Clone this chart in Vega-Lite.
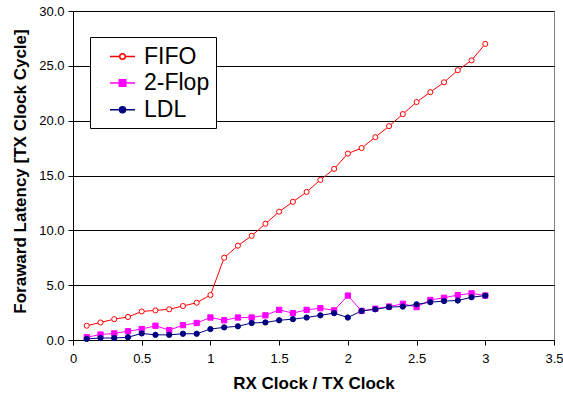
{
  "$schema": "https://vega.github.io/schema/vega-lite/v6.json",
  "width": 481,
  "height": 329,
  "autosize": "none",
  "padding": {"left": 73, "top": 11, "right": 9, "bottom": 61},
  "background": "white",
  "config": {
    "font": "Liberation Sans",
    "view": {"stroke": "#808080", "strokeWidth": 1},
    "axis": {
      "labelFont": "Liberation Sans",
      "titleFont": "Liberation Sans",
      "labelColor": "black",
      "titleColor": "black",
      "domainColor": "black",
      "tickColor": "black",
      "gridColor": "black",
      "labelFontSize": 13,
      "titleFontSize": 17,
      "titleFontWeight": "bold"
    }
  },
  "datasets": {
    "pts": [
      {"x": 0.1, "series": "FIFO", "y": 1.3}, {"x": 0.2, "series": "FIFO", "y": 1.6}, {"x": 0.3, "series": "FIFO", "y": 1.9},
      {"x": 0.4, "series": "FIFO", "y": 2.1}, {"x": 0.5, "series": "FIFO", "y": 2.6}, {"x": 0.6, "series": "FIFO", "y": 2.7},
      {"x": 0.7, "series": "FIFO", "y": 2.8}, {"x": 0.8, "series": "FIFO", "y": 3.1}, {"x": 0.9, "series": "FIFO", "y": 3.4},
      {"x": 1.0, "series": "FIFO", "y": 4.1}, {"x": 1.1, "series": "FIFO", "y": 7.5}, {"x": 1.2, "series": "FIFO", "y": 8.6},
      {"x": 1.3, "series": "FIFO", "y": 9.5}, {"x": 1.4, "series": "FIFO", "y": 10.6}, {"x": 1.5, "series": "FIFO", "y": 11.7},
      {"x": 1.6, "series": "FIFO", "y": 12.6}, {"x": 1.7, "series": "FIFO", "y": 13.5}, {"x": 1.8, "series": "FIFO", "y": 14.6},
      {"x": 1.9, "series": "FIFO", "y": 15.6}, {"x": 2.0, "series": "FIFO", "y": 17.0}, {"x": 2.1, "series": "FIFO", "y": 17.5},
      {"x": 2.2, "series": "FIFO", "y": 18.5}, {"x": 2.3, "series": "FIFO", "y": 19.5}, {"x": 2.4, "series": "FIFO", "y": 20.6},
      {"x": 2.5, "series": "FIFO", "y": 21.7}, {"x": 2.6, "series": "FIFO", "y": 22.6}, {"x": 2.7, "series": "FIFO", "y": 23.5},
      {"x": 2.8, "series": "FIFO", "y": 24.6}, {"x": 2.9, "series": "FIFO", "y": 25.5}, {"x": 3.0, "series": "FIFO", "y": 27.0},

      {"x": 0.1, "series": "2-Flop", "y": 0.25}, {"x": 0.2, "series": "2-Flop", "y": 0.5}, {"x": 0.3, "series": "2-Flop", "y": 0.6},
      {"x": 0.4, "series": "2-Flop", "y": 0.8}, {"x": 0.5, "series": "2-Flop", "y": 1.0}, {"x": 0.6, "series": "2-Flop", "y": 1.3},
      {"x": 0.7, "series": "2-Flop", "y": 0.9}, {"x": 0.8, "series": "2-Flop", "y": 1.35}, {"x": 0.9, "series": "2-Flop", "y": 1.55},
      {"x": 1.0, "series": "2-Flop", "y": 2.05}, {"x": 1.1, "series": "2-Flop", "y": 1.8}, {"x": 1.2, "series": "2-Flop", "y": 2.05},
      {"x": 1.3, "series": "2-Flop", "y": 2.05}, {"x": 1.4, "series": "2-Flop", "y": 2.25}, {"x": 1.5, "series": "2-Flop", "y": 2.75},
      {"x": 1.6, "series": "2-Flop", "y": 2.45}, {"x": 1.7, "series": "2-Flop", "y": 2.75}, {"x": 1.8, "series": "2-Flop", "y": 2.9},
      {"x": 1.9, "series": "2-Flop", "y": 2.7}, {"x": 2.0, "series": "2-Flop", "y": 4.05}, {"x": 2.1, "series": "2-Flop", "y": 2.65},
      {"x": 2.2, "series": "2-Flop", "y": 2.85}, {"x": 2.3, "series": "2-Flop", "y": 3.05}, {"x": 2.4, "series": "2-Flop", "y": 3.3},
      {"x": 2.5, "series": "2-Flop", "y": 3.0}, {"x": 2.6, "series": "2-Flop", "y": 3.65}, {"x": 2.7, "series": "2-Flop", "y": 3.85},
      {"x": 2.8, "series": "2-Flop", "y": 4.1}, {"x": 2.9, "series": "2-Flop", "y": 4.25}, {"x": 3.0, "series": "2-Flop", "y": 4.05},

      {"x": 0.1, "series": "LDL", "y": 0.1}, {"x": 0.2, "series": "LDL", "y": 0.18}, {"x": 0.3, "series": "LDL", "y": 0.18},
      {"x": 0.4, "series": "LDL", "y": 0.25}, {"x": 0.5, "series": "LDL", "y": 0.6}, {"x": 0.6, "series": "LDL", "y": 0.47},
      {"x": 0.7, "series": "LDL", "y": 0.47}, {"x": 0.8, "series": "LDL", "y": 0.57}, {"x": 0.9, "series": "LDL", "y": 0.57},
      {"x": 1.0, "series": "LDL", "y": 1.0}, {"x": 1.1, "series": "LDL", "y": 1.15}, {"x": 1.2, "series": "LDL", "y": 1.25},
      {"x": 1.3, "series": "LDL", "y": 1.55}, {"x": 1.4, "series": "LDL", "y": 1.6}, {"x": 1.5, "series": "LDL", "y": 1.8},
      {"x": 1.6, "series": "LDL", "y": 1.9}, {"x": 1.7, "series": "LDL", "y": 2.05}, {"x": 1.8, "series": "LDL", "y": 2.25},
      {"x": 1.9, "series": "LDL", "y": 2.45}, {"x": 2.0, "series": "LDL", "y": 2.05}, {"x": 2.1, "series": "LDL", "y": 2.65},
      {"x": 2.2, "series": "LDL", "y": 2.8}, {"x": 2.3, "series": "LDL", "y": 3.0}, {"x": 2.4, "series": "LDL", "y": 3.05},
      {"x": 2.5, "series": "LDL", "y": 3.25}, {"x": 2.6, "series": "LDL", "y": 3.45}, {"x": 2.7, "series": "LDL", "y": 3.55},
      {"x": 2.8, "series": "LDL", "y": 3.6}, {"x": 2.9, "series": "LDL", "y": 3.9}, {"x": 3.0, "series": "LDL", "y": 4.05}
    ]
  },
  "data": {"name": "pts"},
  "encoding": {
    "x": {
      "field": "x", "type": "quantitative",
      "scale": {"domain": [0, 3.5], "nice": false, "zero": false},
      "axis": {
        "title": "RX Clock / TX Clock",
        "values": [0, 0.5, 1, 1.5, 2, 2.5, 3, 3.5],
        "format": "~g",
        "grid": false,
        "tickSize": 5,
        "labelPadding": 7,
        "titlePadding": 10,
        "labelFlush": false
      }
    },
    "y": {
      "field": "y", "type": "quantitative",
      "scale": {"domain": [0, 30], "nice": false},
      "axis": {
        "title": "Foraward Latency [TX Clock Cycle]",
        "values": [0, 5, 10, 15, 20, 25, 30],
        "format": ".1f",
        "grid": true,
        "gridWidth": 1,
        "tickSize": 5,
        "labelPadding": 4,
        "titlePadding": 9,
        "titleY": 160,
        "labelFlush": false
      }
    }
  },
  "layer": [
    {
      "mark": {"type": "line", "strokeWidth": 1},
      "encoding": {
        "color": {
          "field": "series", "type": "nominal",
          "scale": {"domain": ["FIFO", "2-Flop", "LDL"], "range": ["#FF0000", "#FF00FF", "#000080"]},
          "legend": {
            "title": null,
            "orient": "none",
            "legendX": 17,
            "legendY": 26,
            "fillColor": "white",
            "strokeColor": "black",
            "padding": 6,
            "symbolSize": 625,
            "symbolType": {"signal": "datum.value === 'FIFO' ? 'M-1,0H-0.22M0.22,0H1M0.22,0A0.22,0.22,0,1,1,-0.22,0A0.22,0.22,0,1,1,0.22,0Z' : datum.value === '2-Flop' ? 'M-1,0H1M-0.26,-0.26H0.26V0.26H-0.26Z' : 'M-1,0H1M0.24,0A0.24,0.24,0,1,1,-0.24,0A0.24,0.24,0,1,1,0.24,0Z'"},
            "symbolOffset": 13,
            "symbolStrokeWidth": 1.5,
            "labelOffset": 8,
            "labelFontSize": 23,
            "labelFont": "Liberation Sans",
            "labelColor": "black",
            "rowPadding": 0.6,
            "labelExpr": "datum.label + ' '",
            "encode": {
              "symbols": {
                "update": {
                  "shape": {"signal": "datum.value === 'FIFO' ? 'M-1,0H-0.22M0.22,0H1M0.22,0A0.22,0.22,0,1,1,-0.22,0A0.22,0.22,0,1,1,0.22,0Z' : datum.value === '2-Flop' ? 'M-1,0H1M-0.26,-0.26H0.26V0.26H-0.26Z' : 'M-1,0H1M0.24,0A0.24,0.24,0,1,1,-0.24,0A0.24,0.24,0,1,1,0.24,0Z'"},
                  "fill": {"signal": "datum.value === 'FIFO' ? 'white' : datum.value === '2-Flop' ? '#FF00FF' : '#000080'"},
                  "stroke": {"signal": "datum.value === 'FIFO' ? '#FF0000' : datum.value === '2-Flop' ? '#FF00FF' : '#000080'"},
                  "opacity": {"value": 1}
                }
              }
            }
          }
        }
      }
    },
    {
      "transform": [{"filter": "datum.series === 'FIFO'"}],
      "mark": {"type": "point", "shape": "circle", "size": 26, "strokeWidth": 1, "filled": false, "fill": "white", "stroke": "#FF0000", "opacity": 1}
    },
    {
      "transform": [{"filter": "datum.series === '2-Flop'"}],
      "mark": {"type": "point", "shape": "square", "size": 28, "strokeWidth": 1, "filled": true, "fill": "#FF00FF", "stroke": "#FF00FF", "opacity": 1}
    },
    {
      "transform": [{"filter": "datum.series === 'LDL'"}],
      "mark": {"type": "point", "shape": "circle", "size": 28, "strokeWidth": 1, "filled": true, "fill": "#000080", "stroke": "#000080", "opacity": 1}
    }
  ]
}
